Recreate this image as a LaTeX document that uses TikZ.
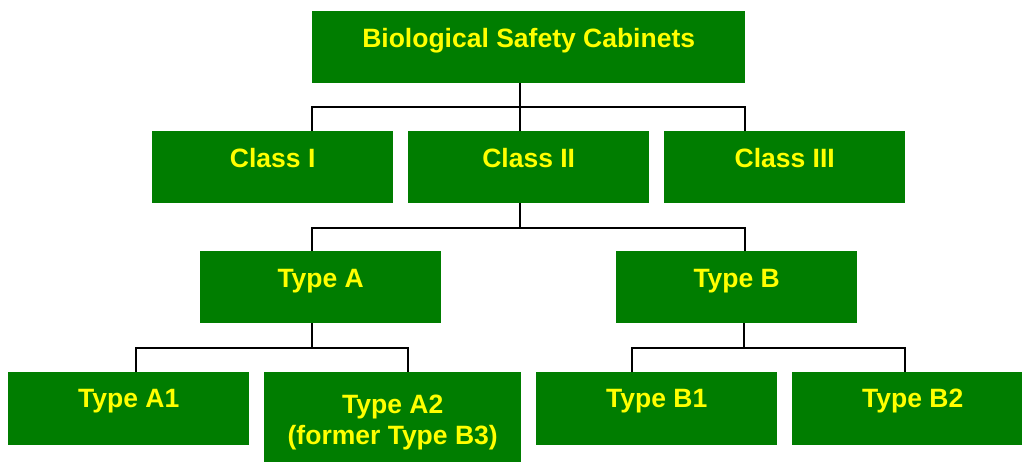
\documentclass[tikz,border=0pt]{standalone}
\usepackage{fontspec}
\setmainfont{Liberation Sans}
\definecolor{boxgreen}{RGB}{0,125,0}
\definecolor{txtyellow}{RGB}{255,255,0}
\begin{document}
\begin{tikzpicture}[x=1pt,y=-1pt,
  box/.style={fill=boxgreen, draw=none, inner sep=0pt, anchor=north west},
  lbl/.style={text=txtyellow, font=\fontsize{26.5}{31}\selectfont\bfseries, inner sep=0pt, anchor=base, align=center},
  conn/.style={draw=black, line width=1.6pt}]
\useasboundingbox (0,0) rectangle (1022,461);
\clip (0,0) rectangle (1022,461);
% boxes
\node[box, minimum width=433, minimum height=72] (top) at (312,11) {};
\node[box, minimum width=241, minimum height=72] (c1) at (152,131) {};
\node[box, minimum width=241, minimum height=72] (c2) at (408,131) {};
\node[box, minimum width=241, minimum height=72] (c3) at (664,131) {};
\node[box, minimum width=241, minimum height=72] (ta) at (200,251) {};
\node[box, minimum width=241, minimum height=72] (tb) at (616,251) {};
\node[box, minimum width=241, minimum height=73] (a1) at (8,372) {};
\node[box, minimum width=257, minimum height=95] (a2) at (264,372) {};
\node[box, minimum width=241, minimum height=73] (b1) at (536,372) {};
\node[box, minimum width=241, minimum height=73] (b2) at (792,372) {};
% labels
\node[lbl] (ltop) at ([yshift=-36]top.north) {Biological Safety Cabinets};
\node[lbl] (lc1) at ([yshift=-36]c1.north) {Class I};
\node[lbl] (lc2) at ([yshift=-36]c2.north) {Class II};
\node[lbl] (lc3) at ([yshift=-36]c3.north) {Class III};
\node[lbl] (lta) at ([yshift=-36]ta.north) {Type A};
\node[lbl] (ltb) at ([yshift=-36]tb.north) {Type B};
\node[lbl] (la1) at ([yshift=-35]a1.north) {Type A1};
\node[lbl] (la2) at ([yshift=-72]a2.north) {Type A2\\(former Type B3)};
\node[lbl] (lb1) at ([yshift=-35]b1.north) {Type B1};
\node[lbl] (lb2) at ([yshift=-35]b2.north) {Type B2};
% bus coordinates
\coordinate (bus1) at (520,107);
\coordinate (bus1l) at (312,107);
\coordinate (bus1r) at (745,107);
\coordinate (bus2) at (520,228);
\coordinate (bus2l) at (312,228);
\coordinate (bus2r) at (745,228);
\coordinate (bus3) at (312,348);
\coordinate (bus3l) at (136,348);
\coordinate (bus3r) at (408,348);
\coordinate (bus4) at (744,348);
\coordinate (bus4l) at (632,348);
\coordinate (bus4r) at (905,348);
% connectors
\draw[conn] (bus1 |- top.south) -- (bus1);
\draw[conn] (bus1l |- c1.north) -- (bus1l) -- (bus1r) -- (bus1r |- c3.north);
\draw[conn] (bus1) -- (bus1 |- c2.north);
\draw[conn] (bus2 |- c2.south) -- (bus2);
\draw[conn] (bus2l |- ta.north) -- (bus2l) -- (bus2r) -- (bus2r |- tb.north);
\draw[conn] (bus3 |- ta.south) -- (bus3);
\draw[conn] (bus3l |- a1.north) -- (bus3l) -- (bus3r) -- (bus3r |- a2.north);
\draw[conn] (bus4 |- tb.south) -- (bus4);
\draw[conn] (bus4l |- b1.north) -- (bus4l) -- (bus4r) -- (bus4r |- b2.north);
\end{tikzpicture}
\end{document}
